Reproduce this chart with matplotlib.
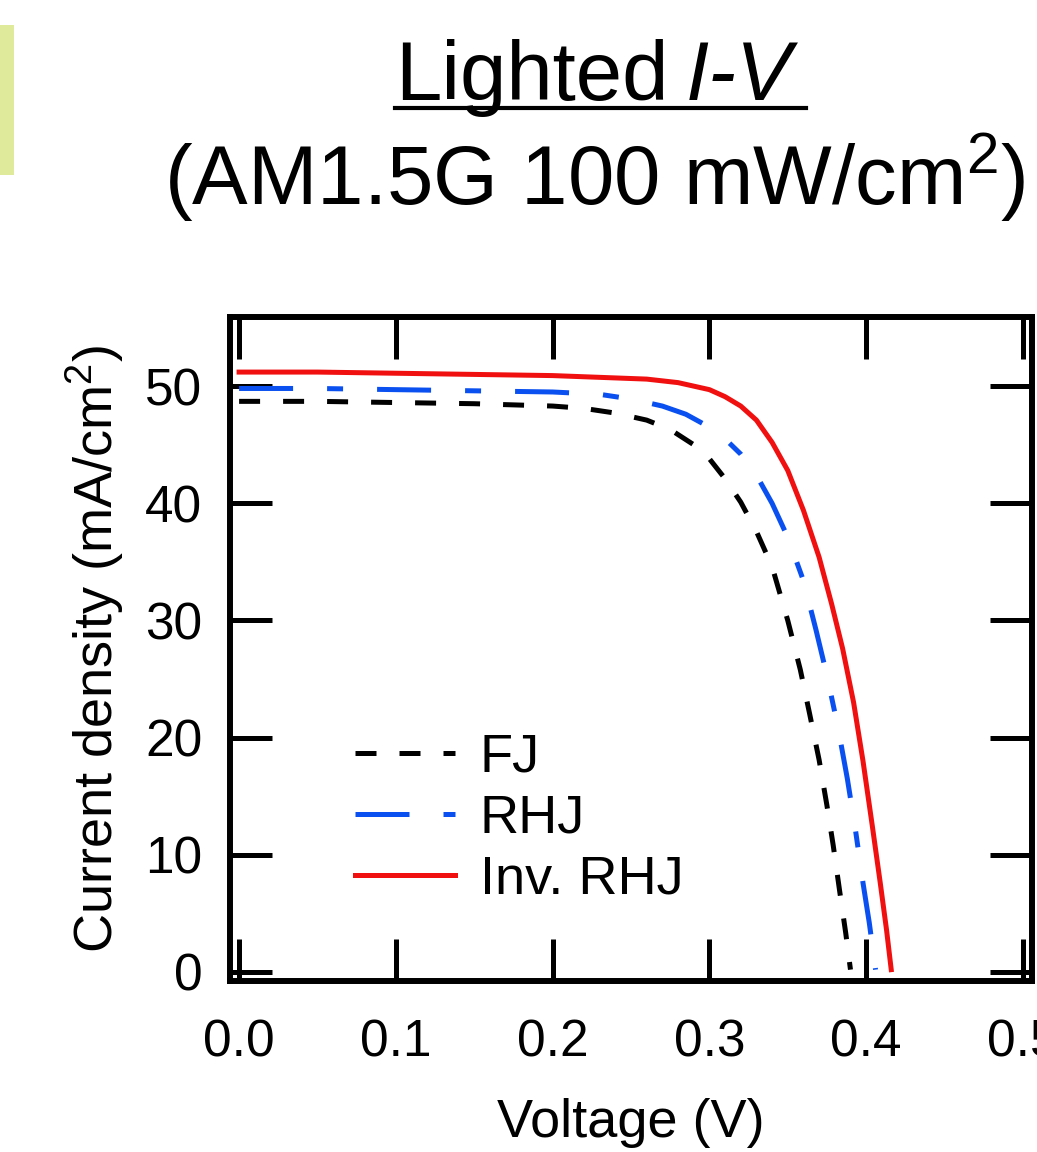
import matplotlib
matplotlib.use("Agg")
import matplotlib.pyplot as plt
from matplotlib.lines import Line2D
from matplotlib.patches import Rectangle

plt.rcParams['font.family'] = ['Liberation Sans', 'DejaVu Sans']
plt.rcParams['mathtext.fontset'] = 'custom'
plt.rcParams['mathtext.rm'] = 'Liberation Sans'
plt.rcParams['mathtext.it'] = 'Liberation Sans:italic'

# ---- data ----
fj_v = [0.000, 0.050, 0.100, 0.150, 0.200, 0.220, 0.240, 0.260, 0.275, 0.290, 0.300, 0.310,
        0.320, 0.330, 0.340, 0.350, 0.358, 0.364, 0.370, 0.375, 0.379, 0.383, 0.387, 0.390]
fj_j = [48.7, 48.7, 48.6, 48.5, 48.3, 48.1, 47.7, 47.1, 46.3, 45.0, 43.8, 42.1,
        40.1, 37.6, 34.6, 30.0, 25.8, 22.0, 18.1, 14.2, 10.8, 7.0, 3.3, 0.2]

rhj_v = [0.000, 0.050, 0.100, 0.150, 0.200, 0.230, 0.250, 0.270, 0.285, 0.300, 0.310, 0.320,
         0.330, 0.340, 0.350, 0.360, 0.368, 0.375, 0.382, 0.388, 0.393, 0.398, 0.402, 0.406]
rhj_j = [49.8, 49.8, 49.7, 49.6, 49.5, 49.3, 48.9, 48.3, 47.6, 46.5, 45.5, 44.2,
         42.4, 40.0, 37.1, 33.4, 29.2, 25.3, 20.9, 16.5, 12.3, 7.6, 4.2, 0.2]

inv_v = [0.000, 0.050, 0.100, 0.150, 0.200, 0.240, 0.260, 0.280, 0.290, 0.300, 0.310, 0.320,
         0.330, 0.340, 0.350, 0.360, 0.370, 0.378, 0.385, 0.392, 0.398, 0.404, 0.409, 0.413, 0.416]
inv_j = [51.2, 51.2, 51.1, 51.0, 50.9, 50.7, 50.6, 50.3, 50.0, 49.7, 49.1, 48.3,
         47.1, 45.2, 42.8, 39.4, 35.4, 31.4, 27.6, 23.0, 18.0, 12.4, 7.6, 3.6, 0.2]

labels = ["FJ", "RHJ", "Inv. RHJ"]
x_ticks = [0.0, 0.1, 0.2, 0.3, 0.4, 0.5]
x_ticklabels = ["0.0", "0.1", "0.2", "0.3", "0.4", "0.5"]
y_ticks = [0, 10, 20, 30, 40, 50]

W, H = 1037, 1152
fig = plt.figure(figsize=(W / 100, H / 100), dpi=100)
fig.patch.set_facecolor('white')

ax = fig.add_axes([230 / W, 1 - 981 / H, (1032 - 230) / W, (981 - 317) / H])

lw = 3.6
ax.plot(fj_v, fj_j, color='black', lw=lw, dashes=(4.2, 4.6), label=labels[0])
ax.plot(rhj_v, rhj_j, color='#0a50f0', lw=lw, dashes=(10.8, 6.8, 3.2, 6.8), label=labels[1])
ax.plot(inv_v, inv_j, color='#f01010', lw=lw, label=labels[2])

ax.set_xlim(-0.0058, 0.5058)
ax.set_ylim(-0.77, 55.9)
ax.set_xticks(x_ticks)
ax.set_xticklabels(x_ticklabels)
ax.set_yticks(y_ticks)
ax.tick_params(direction='in', length=30, width=3.6, top=True, right=True,
               labelsize=37, color='black')
ax.tick_params(axis='x', pad=27)
ax.tick_params(axis='y', pad=20)
for s in ax.spines.values():
    s.set_linewidth(4.3)

ax.set_xlabel("Voltage (V)", fontsize=39, labelpad=22)
ax.set_ylabel("Current density (mA/cm$^2$)", fontsize=39, labelpad=14)

leg = ax.legend(loc='upper left', bbox_to_anchor=(355 / W, 1 - 733 / H),
                bbox_transform=fig.transFigure, frameon=False, fontsize=39,
                handlelength=1.85, handletextpad=0.45, labelspacing=0.2,
                borderpad=0, borderaxespad=0)

# title
fig.text(669 / W, 1 - 100 / H, "Lighted", fontsize=60, ha='right', va='baseline')
fig.text(686 / W, 1 - 100 / H, "I-V", fontsize=60, ha='left', va='baseline', style='italic')
fig.add_artist(Line2D([395 / W, 806 / W], [1 - 108 / H, 1 - 108 / H], color='black', lw=3,
                      transform=fig.transFigure))
fig.text(595 / W, 1 - 205 / H, "(AM1.5G 100 mW/cm$^2$)", fontsize=60, ha='center', va='baseline')

# green side bar
fig.add_artist(Rectangle((0, 1 - 175 / H), 14 / W, 150 / H, transform=fig.transFigure,
                         facecolor='#dfeb9b', edgecolor='none'))

fig.savefig("out.png", dpi=100)
